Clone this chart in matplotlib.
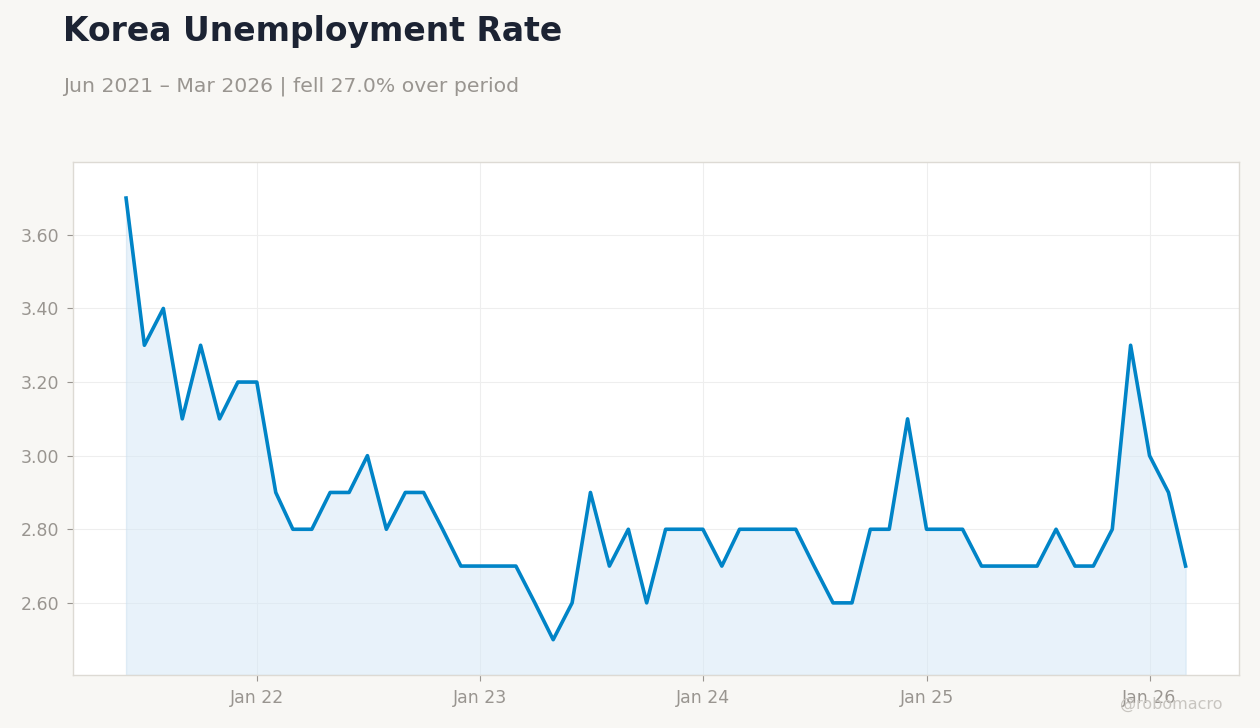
import pandas as pd
import matplotlib
matplotlib.use("Agg")
import matplotlib.pyplot as plt
import matplotlib.dates as mdates

# Monthly unemployment rate, Jun 2021 - Mar 2026
start_month = "2021-06-01"
rates = [3.7, 3.3, 3.4, 3.1, 3.3, 3.1, 3.2,
         3.2, 2.9, 2.8, 2.8, 2.9, 2.9, 3.0, 2.8, 2.9, 2.9, 2.8, 2.7,
         2.7, 2.7, 2.7, 2.6, 2.5, 2.6, 2.9, 2.7, 2.8, 2.6, 2.8, 2.8,
         2.8, 2.7, 2.8, 2.8, 2.8, 2.8, 2.7, 2.6, 2.6, 2.8, 2.8, 3.1,
         2.8, 2.8, 2.8, 2.7, 2.7, 2.7, 2.7, 2.8, 2.7, 2.7, 2.8, 3.3,
         3.0, 2.9, 2.7]
title = "Korea Unemployment Rate"
subtitle = "Jun 2021 \u2013 Mar 2026 | fell 27.0% over period"
watermark = "@robomacro"

dates = pd.date_range(start_month, periods=len(rates), freq="MS")

bg = "#f8f7f4"
line_color = "#0084c7"
grey = "#999590"

fig = plt.figure(figsize=(12.6, 7.28), dpi=100, facecolor=bg)
ax = fig.add_axes([0.058, 0.0728, 0.925, 0.7047])
ax.set_facecolor("white")

ax.plot(dates, rates, color=line_color, linewidth=2.6, zorder=3)
ax.set_ylim(2.404, 3.798)
ax.fill_between(dates, rates, 2.404, color="#d3e7f6", alpha=0.5,
                edgecolor="#c9dff0", linewidth=1, zorder=2)
ax.margins(x=0.05)

ax.xaxis.set_major_locator(mdates.YearLocator())
ax.xaxis.set_major_formatter(mdates.DateFormatter("Jan %y"))
ax.set_yticks([2.6, 2.8, 3.0, 3.2, 3.4, 3.6])
ax.yaxis.set_major_formatter(plt.FuncFormatter(lambda v, p: f"{v:.2f}"))

ax.grid(True, color="#eeeeee", linewidth=0.8, zorder=0)
ax.set_axisbelow(True)
for s in ax.spines.values():
    s.set_color("#dddad4")
    s.set_linewidth(1)
ax.tick_params(colors=grey, labelsize=12.5, length=4, width=0.8)
ax.tick_params(axis="x", pad=6)
ax.tick_params(axis="y", pad=6)

fig.text(0.05, 0.943, title, fontsize=23.8, fontweight="bold",
         color="#1c2333", va="baseline")
fig.text(0.05, 0.874, subtitle, fontsize=14.65, color=grey, va="baseline")
fig.text(0.97, 0.032, watermark, fontsize=11.5, color="#c8c5c0",
         ha="right", va="center")

fig.savefig("out.png", dpi=100, facecolor=bg)
